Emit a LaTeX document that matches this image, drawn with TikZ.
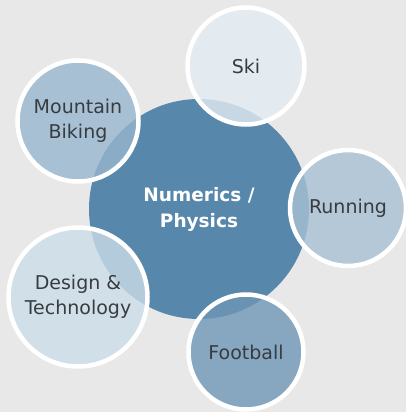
\documentclass[tikz,border=0pt]{standalone}
\usepackage{fontspec}
\setsansfont{DejaVu Sans}
\usetikzlibrary{positioning}
\definecolor{bgGray}{RGB}{232,232,232}
\definecolor{coreBlue}{RGB}{87,135,170}
\definecolor{labelGray}{RGB}{55,60,65}
\definecolor{skiFill}{RGB}{228,236,242}
\definecolor{bikeFill}{RGB}{153,182,206}
\definecolor{runFill}{RGB}{168,193,212}
\definecolor{designFill}{RGB}{204,221,232}
\definecolor{footFill}{RGB}{111,151,182}
\tikzset{
  core/.style={circle, fill=coreBlue, minimum size=220pt, inner sep=0pt,
               font=\sffamily\bfseries\fontsize{18.5}{26}\selectfont,
               text=white, align=center},
  topic/.style={circle, draw=white, line width=4.5pt, fill opacity=0.8,
                text opacity=1, inner sep=0pt, minimum size=117pt,
                font=\sffamily\fontsize{19}{25}\selectfont,
                text=labelGray, align=center}
}

\begin{document}
\begin{tikzpicture}[x=1pt, y=-1pt]
  \fill[bgGray] (0,0) rectangle (406,412);
  \useasboundingbox (0,0) rectangle (406,412);
  \clip (0,0) rectangle (406,412);

  % hub
  \node[core] (core) at (199,209) {Numerics /\\Physics};

  % topics around the hub
  \node[topic, fill=skiFill] (ski) at (246,66) {Ski};
  \node[topic, fill=bikeFill, minimum size=121pt] (bike) at (78,121) {Mountain\\Biking};
  \node[topic, fill=runFill, minimum size=116pt] (run) at (348,208) {Running};
  \node[topic, fill=designFill, minimum size=139pt] (design) at (78,297) {Design \&\\Technology};
  \node[topic, fill=footFill, minimum size=115pt] (foot) at (246,352) {Football};
\end{tikzpicture}
\end{document}
